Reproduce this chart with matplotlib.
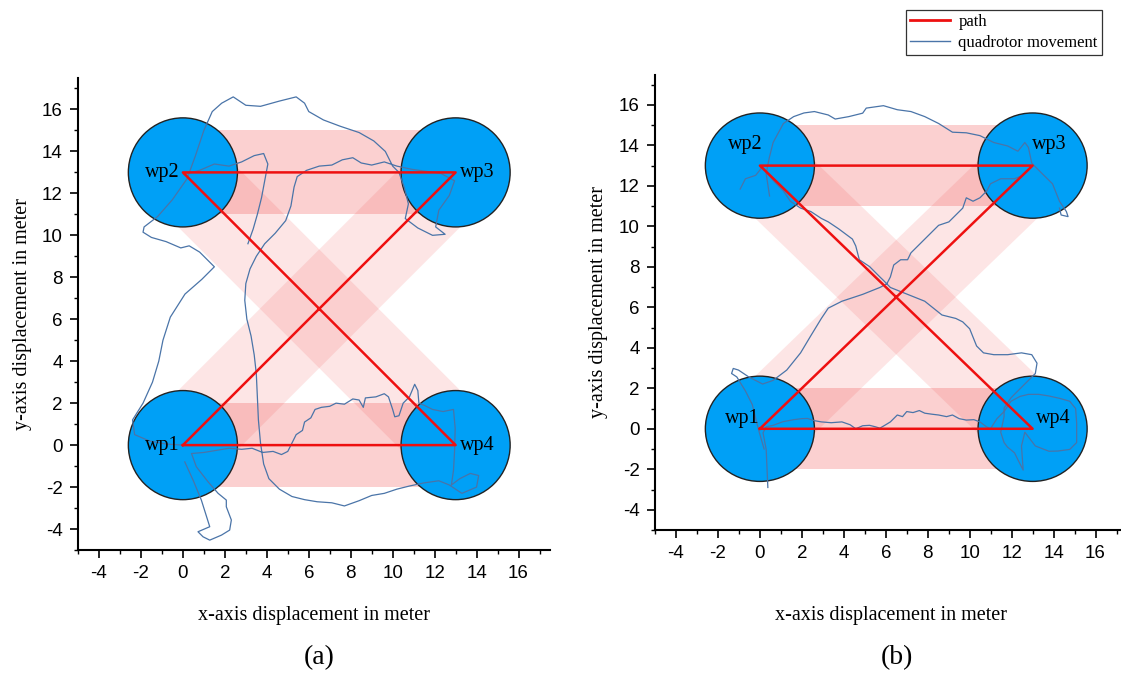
import numpy as np
import matplotlib
matplotlib.use("Agg")
import matplotlib.pyplot as plt
from matplotlib.patches import Circle, Polygon
from matplotlib.lines import Line2D
from matplotlib.ticker import MultipleLocator

plt.rcParams['axes.unicode_minus'] = False

# waypoints and planned path (metres)
wp_names = ['wp1', 'wp2', 'wp3', 'wp4']
wp_x = [0, 0, 13, 13]
wp_y = [0, 13, 13, 0]
path_order = [0, 3, 1, 2, 0]          # wp1 -> wp4 -> wp2 -> wp3 -> wp1
wp_radius = 2.6
band_halfwidth = 2.0

nan = float('nan')

# measured quadrotor track, run (a)
track_a = [
    (0.09, -0.80), (0.50, -1.70), (0.88, -2.62), (1.28, -3.89), (0.72, -4.13), (0.96, -4.37),
    (1.28, -4.53), (1.84, -4.29), (2.23, -4.05), (2.31, -3.57), (2.07, -2.94), (2.07, -2.62),
    (1.68, -2.30), (1.20, -1.75), (0.64, -1.03), (0.41, -0.40), (1.0, -0.35), (1.6, -0.25),
    (2.2, -0.15), (2.8, -0.2), (3.3, -0.15), (3.8, -0.35), (4.3, -0.3), (4.7, -0.45), (5.0, -0.3),
    (5.2, 0.1), (5.4, 0.5), (5.7, 0.7), (5.8, 1.1), (6.1, 1.3), (6.3, 1.7), (6.6, 1.8), (7.0, 1.85),
    (7.3, 2.0), (7.7, 1.95), (8.1, 2.2), (8.4, 2.15), (8.6, 1.8), (8.7, 2.25), (9.2, 2.3), (9.6, 2.45),
    (9.8, 2.3), (10.0, 1.7), (10.1, 1.35), (10.3, 1.4), (10.5, 2.0), (10.8, 2.3), (11.05, 2.9),
    (11.2, 2.6), (11.25, 2.0), (11.5, 1.9), (11.9, 1.7), (12.4, 1.6), (12.9, 1.7), (12.98, 0.8),
    (12.95, -0.3), (12.9, -1.2), (12.8, -1.9), (13.2, -1.6), (13.7, -1.35), (14.1, -1.45),
    (14.0, -2.0), (13.3, -2.3), (12.7, -1.9), (12.2, -1.7), (11.5, -1.8), (10.8, -1.95), (10.2, -2.1),
    (9.6, -2.3), (9.0, -2.4), (8.4, -2.65), (7.7, -2.9), (7.1, -2.75), (6.4, -2.7), (5.8, -2.6),
    (5.2, -2.45), (4.6, -2.1), (4.1, -1.6), (3.85, -0.9), (3.7, 0.1), (3.6, 1.2), (3.55, 2.3),
    (3.5, 3.4), (3.4, 4.3), (3.25, 5.2), (3.05, 6.0), (2.95, 6.9), (3.0, 7.7), (3.2, 8.4), (3.5, 9.0),
    (3.9, 9.6), (4.4, 10.1), (4.9, 10.7), (5.15, 11.4), (5.3, 12.3), (5.45, 12.8), (5.9, 13.1),
    (6.5, 13.3), (7.1, 13.35), (7.6, 13.6), (8.1, 13.7), (8.5, 13.45), (9.0, 13.35), (9.6, 13.5),
    (10.2, 13.3), (10.9, 13.15), (11.6, 13.05), (12.3, 12.95), (12.95, 12.6), (12.7, 11.9),
    (12.2, 11.2), (12.05, 10.4), (12.5, 10.05), (11.9, 10.0), (11.2, 10.35), (10.6, 10.8),
    (10.75, 11.5), (10.55, 12.3), (10.3, 13.0), (10.0, 13.3), (9.65, 14.0), (9.1, 14.5), (8.4, 14.9),
    (7.5, 15.2), (6.7, 15.5), (6.0, 15.9), (5.8, 16.3), (5.4, 16.6), (4.6, 16.4), (3.7, 16.15),
    (3.0, 16.2), (2.4, 16.6), (1.85, 16.3), (1.4, 15.9), (1.0, 15.0), (0.6, 13.8), (0.2, 12.7),
    (-0.5, 11.7), (-1.2, 10.9), (-1.85, 10.4), (-1.9, 10.15), (-1.5, 9.9), (-0.8, 9.7), (-0.1, 9.4),
    (0.3, 9.5), (0.8, 9.2), (1.5, 8.5), (0.9, 7.9), (0.1, 7.2), (-0.6, 6.1), (-0.95, 5.0),
    (-1.15, 4.0), (-1.45, 3.0), (-1.9, 2.0), (-2.4, 1.2), (-2.3, 0.5), (-1.6, 0.2), (-0.8, 0.05),
    (0.0, 0.0), (nan, nan),
    (0.05, 12.9), (0.8, 13.1), (1.5, 13.4), (2.2, 13.3), (2.8, 13.5), (3.4, 13.8), (3.85, 13.9),
    (4.05, 13.4), (3.9, 12.6), (3.75, 11.8), (3.55, 11.0), (3.35, 10.3), (3.1, 9.6),
]

# measured quadrotor track, run (b)
track_b = [
    (0.38, -2.90), (0.30, -1.02), (0.15, -0.2), (0.3, 0.1), (0.63, 0.17), (1.1, 0.35), (1.61, 0.45),
    (2.0, 0.5), (2.27, 0.51), (2.6, 0.4), (2.93, 0.34), (3.4, 0.3), (3.91, 0.34), (4.3, 0.2),
    (4.57, 0.0), (4.9, 0.15), (5.23, 0.17), (5.5, 0.1), (5.72, 0.03), (6.0, 0.2), (6.22, 0.34),
    (6.55, 0.68), (6.8, 0.6), (7.0, 0.85), (7.3, 0.8), (7.6, 0.9), (7.86, 0.77), (8.2, 0.72),
    (8.52, 0.68), (8.9, 0.6), (9.18, 0.68), (9.5, 0.5), (9.84, 0.43), (10.2, 0.45), (10.49, 0.34),
    (10.8, 0.1), (10.99, 0.0), (11.3, 0.5), (11.64, 0.85), (11.97, 1.36), (12.4, 1.6), (12.80, 1.70),
    (13.3, 1.7), (13.78, 1.62), (14.3, 1.5), (14.77, 1.36), (15.05, 1.0), (15.10, 0.3), (15.10, -0.68),
    (14.77, -1.02), (14.2, -1.1), (13.78, -1.11), (13.13, -0.85), (12.63, -0.17), (12.47, -0.85),
    (12.55, -2.04), (12.30, -1.53), (12.14, -1.19), (11.8, -0.9), (11.64, -0.68), (11.48, -0.17),
    (11.64, 0.6), (11.64, 1.02), (11.97, 1.53), (12.30, 1.87), (12.80, 2.39), (13.13, 2.73),
    (13.21, 3.24), (12.96, 3.66), (12.47, 3.75), (11.81, 3.66), (11.15, 3.66), (10.66, 3.75),
    (10.33, 4.09), (10.0, 4.94), (9.67, 5.28), (9.34, 5.45), (8.68, 5.62), (7.86, 6.30), (7.04, 6.64),
    (6.22, 6.98), (5.89, 7.33), (5.72, 7.50), (5.23, 8.01), (4.74, 8.35), (4.57, 9.03), (4.41, 9.37),
    (3.75, 9.88), (3.26, 10.22), (2.93, 10.39), (2.43, 10.73), (1.94, 10.90), (1.45, 11.24),
    (1.12, 11.75), (0.63, 12.27), (0.13, 12.95), (-0.20, 12.52), (-0.69, 12.35), (-0.94, 11.84),
    (nan, nan),
    (0.46, 11.5), (0.30, 12.6), (0.45, 13.4), (0.63, 14.14), (1.12, 15.08), (1.61, 15.42), (2.1, 15.6),
    (2.60, 15.67), (3.26, 15.50), (3.59, 15.30), (4.24, 15.42), (4.90, 15.59), (5.07, 15.84),
    (5.89, 15.96), (6.55, 15.76), (7.20, 15.67), (7.86, 15.42), (8.52, 15.08), (9.18, 14.65),
    (9.84, 14.62), (10.49, 14.48), (11.15, 14.14), (11.81, 13.97), (12.30, 13.71), (12.63, 14.14),
    (12.80, 13.9), (12.96, 13.12), (13.45, 12.61), (13.95, 12.1), (14.28, 11.24), (14.61, 10.73),
    (14.69, 10.48), (14.36, 10.56), (14.28, 10.90),
    (nan, nan),
    (12.9, 12.9), (12.5, 12.5), (12.14, 12.35), (11.48, 12.35), (10.99, 12.1), (10.82, 11.75),
    (10.49, 11.41), (10.16, 11.24), (9.84, 11.41), (9.67, 10.90), (9.34, 10.56), (9.01, 10.22),
    (8.52, 10.05), (8.19, 9.71), (7.86, 9.37), (7.53, 9.03), (7.20, 8.69), (7.04, 8.35), (6.71, 8.35),
    (6.38, 8.09), (6.22, 7.50), (6.05, 7.16), (5.72, 6.98), (4.90, 6.64), (4.41, 6.47), (3.91, 6.30),
    (3.26, 5.96), (2.93, 5.45), (2.43, 4.60), (1.94, 3.75), (1.28, 2.90), (0.63, 2.39), (0.13, 2.21),
    (-0.53, 2.56), (-1.02, 2.90), (-1.27, 2.98), (-1.35, 2.73), (-1.10, 2.56), (-0.69, 1.87),
    (-0.36, 1.19), (-0.20, 0.51), (-0.03, -0.17), (0.2, -1.0),
]

serif = ['Liberation Serif', 'DejaVu Serif']
sans = ['Liberation Sans', 'DejaVu Sans']
blue_track = '#4a74a8'


def draw_panel(ax, track, label_pos, letter, xlabel_y, ylabel_x, letter_y):
    px = np.array(wp_x, dtype=float)
    py = np.array(wp_y, dtype=float)

    # tolerance corridors around each path leg
    for a, b in zip(path_order[:-1], path_order[1:]):
        p = np.array([px[a], py[a]])
        q = np.array([px[b], py[b]])
        d = (q - p) / np.hypot(*(q - p))
        n = np.array([-d[1], d[0]]) * band_halfwidth
        horizontal = abs(d[1]) < 1e-9
        ax.add_patch(Polygon([p + n, q + n, q - n, p - n], closed=True,
                             facecolor='#f03c3c', edgecolor='none',
                             alpha=0.24 if horizontal else 0.13, zorder=1))

    for x, y in zip(px, py):
        ax.add_patch(Circle((x, y), wp_radius, facecolor='#00a0f6',
                            edgecolor='#222222', lw=1.0, zorder=2))

    t = np.array(track, dtype=float)
    ax.plot(t[:, 0], t[:, 1], color=blue_track, lw=0.9, zorder=3)

    ax.plot(px[path_order], py[path_order], color='#ee1010', lw=1.8, zorder=4)

    for name, x, y, (dx, dy, ha) in zip(wp_names, px, py, label_pos):
        ax.text(x + dx, y + dy, name, ha=ha, va='center', fontsize=14.5,
                family=serif, zorder=5)

    ax.set_xlim(-5, 17.5)
    ax.set_ylim(-5, 17.5)
    ax.xaxis.set_minor_locator(MultipleLocator(1))
    ax.yaxis.set_minor_locator(MultipleLocator(1))
    ax.set_xticks(np.arange(-4, 17, 2))
    ax.set_yticks(np.arange(-4, 17, 2))
    for s in ['top', 'right']:
        ax.spines[s].set_visible(False)
    for s in ['left', 'bottom']:
        ax.spines[s].set_linewidth(1.5)
    ax.tick_params(which='major', direction='out', length=6, width=1.2, pad=5,
                   labelsize=13.5)
    ax.tick_params(which='minor', direction='out', length=3, width=1.0)
    for lab in ax.get_xticklabels() + ax.get_yticklabels():
        lab.set_family(sans)

    ax.set_xlabel('x-axis displacement in meter', fontsize=14.5, family=serif)
    ax.set_ylabel('y-axis displacement in meter', fontsize=14.5, family=serif)
    ax.xaxis.set_label_coords(0.5, xlabel_y)
    ax.yaxis.set_label_coords(ylabel_x, 0.5)
    ax.text(0.512, letter_y, letter, transform=ax.transAxes, ha='center',
            va='center', fontsize=20, family=serif)


W, H = 1121, 675
fig = plt.figure(figsize=(W / 100, H / 100), dpi=100)

ax1 = fig.add_axes([78 / W, 1 - 550 / H, 472 / W, 472 / H])
ax2 = fig.add_axes([655 / W, 1 - 530 / H, 472 / W, 455.5 / H])

labels_a = [(-0.15, 0, 'right'), (-0.15, 0, 'right'), (0.2, 0, 'left'), (0.2, 0, 'left')]
labels_b = [(-0.85, 0.5, 'center'), (-0.7, 1.05, 'center'), (0.8, 1.05, 'center'), (1.0, 0.5, 'center')]

draw_panel(ax1, track_a, labels_a, '(a)', -0.119, -0.098, -0.229)
draw_panel(ax2, track_b, labels_b, '(b)', -0.167, -0.1, -0.281)

handles = [Line2D([], [], color='#ee1010', lw=2.0),
           Line2D([], [], color=blue_track, lw=1.0)]
leg = fig.legend(handles, ['path', 'quadrotor movement'], loc='upper right',
                 bbox_to_anchor=(1102 / W, 1 - 10 / H), borderaxespad=0,
                 frameon=True, fancybox=False,
                 prop={'family': serif, 'size': 12}, handlelength=2.4,
                 borderpad=0.25, labelspacing=0.3, handletextpad=0.5)
leg.get_frame().set_edgecolor('black')
leg.get_frame().set_linewidth(0.9)

fig.savefig('out.png', dpi=100)
